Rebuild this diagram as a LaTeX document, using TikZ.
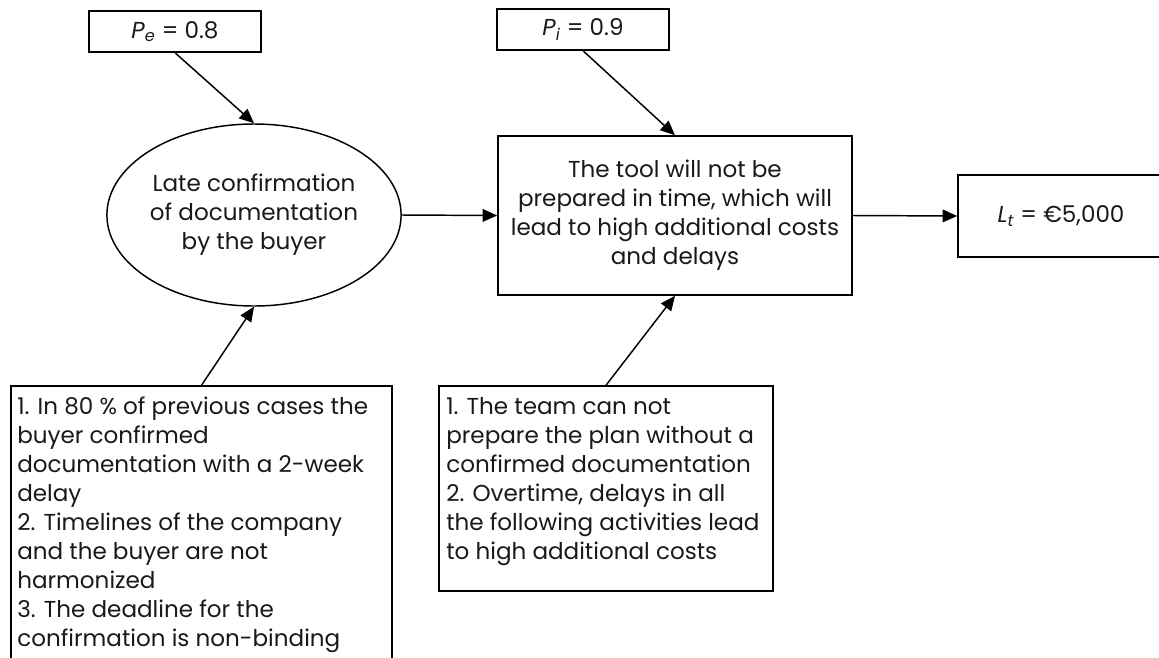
\documentclass[tikz,border=0pt]{standalone}
\usepackage{fontspec}
\setmainfont{Poppins}
\usetikzlibrary{arrows.meta,shapes.geometric}
\tikzset{
  every node/.style={font=\fontsize{17.3}{21.75}\selectfont, text=black!90},
  box/.style={draw, line width=1.1pt, inner sep=0pt, align=center},
  arr/.style={line width=1.1pt, -{Triangle[length=11pt,width=9.5pt]}},
  note/.style={inner sep=0pt, align=left, anchor=north west},
}
\begin{document}
\begin{tikzpicture}[x=0.75pt,y=-0.75pt]
\useasboundingbox (0,0) rectangle (1159,657);
\clip (0,0) rectangle (1159,657);
% top probability boxes
\node[box, minimum width=172*0.75pt, minimum height=41*0.75pt] (pe) at (175,31.5)
  {\textit{P}\textsubscript{\textit{e}} = 0.8};
\node[box, minimum width=172*0.75pt, minimum height=41*0.75pt] (pi) at (583,29.5)
  {\textit{P}\textsubscript{\textit{i}} = 0.9};
% event ellipse
\node[box, ellipse, minimum width=278*0.75pt, minimum height=182*0.75pt] (risk) at (254,215)
  {Late confirmation\\of documentation\\by the buyer};
% consequence box
\node[box, minimum width=354*0.75pt, minimum height=159*0.75pt] (mid) at (675,215.5)
  {The tool will not be\\prepared in time, which will\\lead to high additional costs\\and delays};
% loss box
\node[box, minimum width=206*0.75pt, minimum height=82*0.75pt] (lt) at (1061,216)
  {\textit{L}\textsubscript{\textit{t}} = €5,000};
% explanation boxes
\node[box, minimum width=381*0.75pt, minimum height=300*0.75pt] (bl) at (201.5,536) {};
\node[note] (bltext) at (17,397)
  {1. In 80 \% of previous cases the\\buyer confirmed\\documentation with a 2-week\\delay\\2. Timelines of the company\\and the buyer are not\\harmonized\\3. The deadline for the\\confirmation is non-binding};
\node[box, minimum width=334*0.75pt, minimum height=205*0.75pt] (bm) at (606,488.5) {};
\node[note] (bmtext) at (446,397)
  {1. The team can not\\prepare the plan without a\\confirmed documentation\\2. Overtime, delays in all\\the following activities lead\\to high additional costs};
% connectors
\draw[arr] (pe.south) -- (risk.north);
\draw[arr] (pi.south) -- (mid.north);
\draw[arr] (risk.east) -- (mid.west);
\draw[arr] (mid.east) -- (lt.west);
\draw[arr] (bl.north) -- (risk.south);
\draw[arr] (bm.north) -- (mid.south);
\end{tikzpicture}
\end{document}
